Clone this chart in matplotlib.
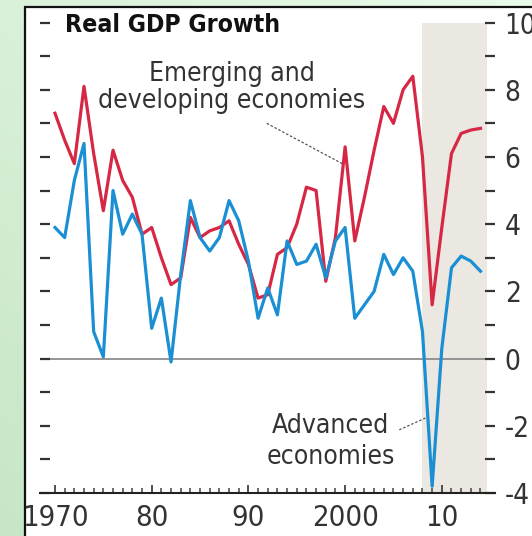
import numpy as np
import matplotlib
matplotlib.use("Agg")
import matplotlib.pyplot as plt
from matplotlib.patches import Rectangle
from matplotlib import font_manager

# pick a narrow face if one is installed
narrow = False
try:
    f = font_manager.findfont(font_manager.FontProperties(family='Liberation Sans Narrow'),
                              fallback_to_default=False)
    plt.rcParams['font.family'] = ['Liberation Sans Narrow', 'DejaVu Sans']
    narrow = True
except Exception:
    f = font_manager.findfont(font_manager.FontProperties(family='DejaVu Sans', stretch='condensed'))
    plt.rcParams['font.family'] = ['DejaVu Sans']
    if 'Condensed' in f:
        plt.rcParams['font.stretch'] = 'condensed'
        narrow = True
k = 1.0 if narrow else 0.85

# data: real GDP growth, %
years = list(range(1970, 2015))
emerging = [7.3, 6.5, 5.8, 8.1, 6.1, 4.4, 6.2, 5.3, 4.8, 3.7,
            3.9, 3.0, 2.2, 2.4, 4.2, 3.6, 3.8, 3.9, 4.1, 3.4,
            2.8, 1.8, 1.9, 3.1, 3.3, 4.0, 5.1, 5.0, 2.3, 3.6,
            6.3, 3.5, 4.8, 6.2, 7.5, 7.0, 8.0, 8.4, 6.0, 1.6,
            3.9, 6.1, 6.7, 6.8, 6.85]
advanced = [3.9, 3.6, 5.3, 6.4, 0.8, 0.05, 5.0, 3.7, 4.3, 3.7,
            0.9, 1.8, -0.1, 2.5, 4.7, 3.6, 3.2, 3.6, 4.7, 4.1,
            2.9, 1.2, 2.1, 1.3, 3.5, 2.8, 2.9, 3.4, 2.4, 3.5,
            3.9, 1.2, 1.6, 2.0, 3.1, 2.5, 3.0, 2.6, 0.8, -3.8,
            0.3, 2.7, 3.05, 2.9, 2.6]
xtick_years = [1970, 1980, 1990, 2000, 2010]
xtick_labels = ['1970', '80', '90', '2000', '10']
ytick_vals = [10, 8, 6, 4, 2, 0, -2, -4]
ytick_labels = ['10', '8', '6', '4', '2', '0', '-2', '-4']

W, H = 532, 536
fig = plt.figure(figsize=(W / 100, H / 100), dpi=100)

# background: green gradient and white panel with black frame
bg = fig.add_axes([0, 0, 1, 1], zorder=-10)
gx, gy = np.meshgrid(np.linspace(0, 1, 200), np.linspace(0, 1, 200))
t = np.clip(0.55 * gy + 0.45 * (1 - gx), 0, 1)
c_top = np.array([0.91, 0.98, 0.91])
c_bot = np.array([0.78, 0.90, 0.78])
img = c_top[None, None, :] * (1 - t[..., None]) + c_bot[None, None, :] * t[..., None]
bg.imshow(img, extent=[0, W, H, 0], aspect='auto')
bg.add_patch(Rectangle((25, 7), W, H, facecolor='white', edgecolor='#111111', lw=1.6))
bg.set_xlim(0, W)
bg.set_ylim(H, 0)
bg.axis('off')

ax = fig.add_axes([40 / W, 43 / H, 455 / W, 470.5 / H])
ax.patch.set_alpha(0)

ax.axvspan(2008, 2014.65, color='#ebe8e2', lw=0, zorder=0)
ax.axhline(0, color='#8c8c8c', lw=1.3, zorder=1)
ax.plot(years, emerging, color='#d62845', lw=2.3, zorder=3)
ax.plot(years, advanced, color='#1a8fd3', lw=2.3, zorder=4)

ax.set_xlim(1968.45, 2015.5)
ax.set_ylim(-4, 10)

for s in ['top', 'left', 'right']:
    ax.spines[s].set_visible(False)
ax.spines['bottom'].set_color('#222222')
ax.spines['bottom'].set_linewidth(1.5)

ax.set_xticks(xtick_years)
ax.set_xticklabels(xtick_labels)
ax.set_xticks(range(1970, 2015), minor=True)
ax.tick_params(axis='x', which='major', direction='in', length=6, width=1.2,
               color='#333333', labelsize=21 * k, labelcolor='#333333', pad=8)
ax.tick_params(axis='x', which='minor', direction='in', length=3.5, width=1.1,
               color='#444444')

ax.set_yticks(ytick_vals)
ax.set_yticklabels(ytick_labels)
ax.set_yticks(range(-4, 11), minor=True)
ax.tick_params(axis='y', which='both', direction='in', left=True, right=True,
               labelleft=False, labelright=True, length=7, width=1.6,
               color='#333333', labelsize=20 * k, labelcolor='#333333', pad=7)

# title and labels
fig.text(65 / W, 1 - 25 / H, 'Real GDP Growth',
         fontsize=20 * k * (1 if narrow else 0.95) * 0.89,
         fontweight='bold', color='#111111', ha='left', va='center')
ax.text(1988.3, 8.08, 'Emerging and\ndeveloping economies', fontsize=19 * k,
        color='#333333', ha='center', va='center', linespacing=1.05)
ax.text(1998.5, -2.48, 'Advanced\neconomies', fontsize=19 * k,
        color='#333333', ha='center', va='center', linespacing=1.25)
ax.plot([1991.9, 1999.7], [7.0, 5.8], color='#555555', lw=0.9, ls=(0, (2, 1.5)), zorder=2)
ax.plot([2005.6, 2008.3], [-2.12, -1.77], color='#555555', lw=0.9, ls=(0, (2, 1.5)), zorder=2)

plt.savefig('out.png', dpi=100)
